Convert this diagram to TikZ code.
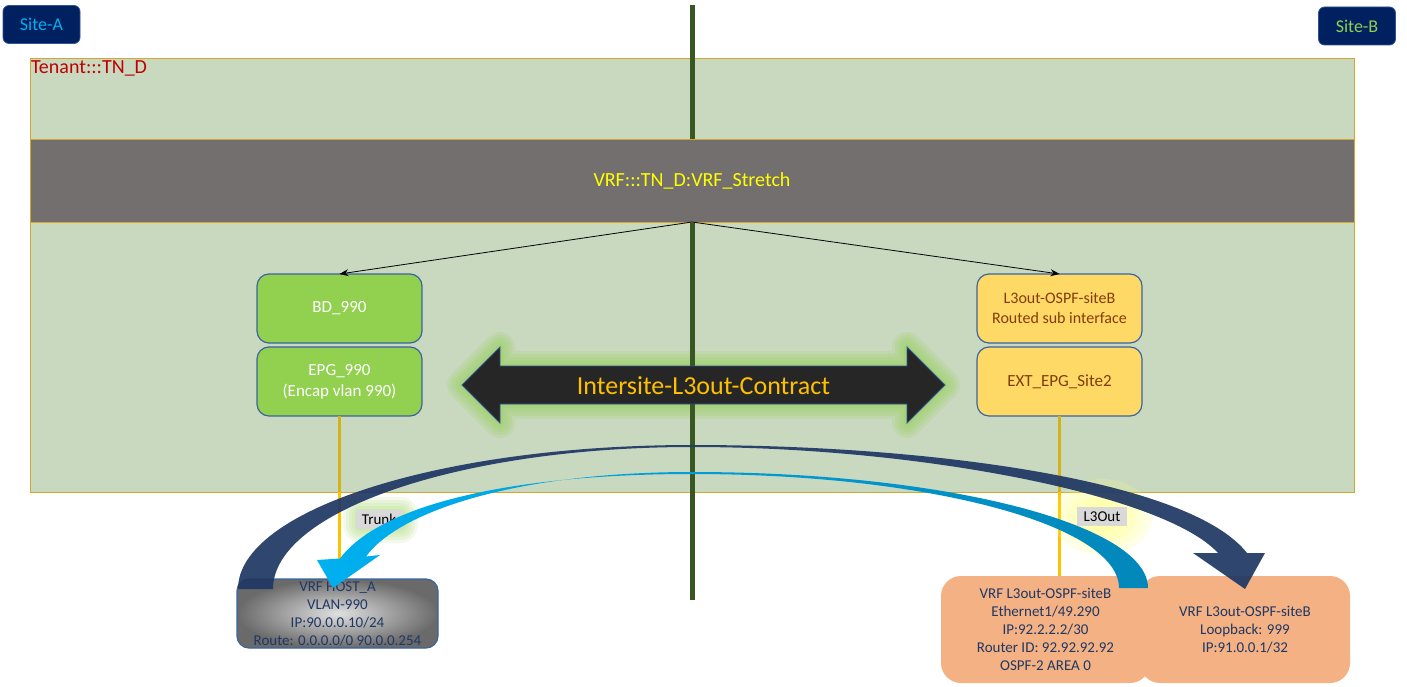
\documentclass[tikz,border=0pt]{standalone}
\usepackage{fontspec}
\setmainfont{Carlito}
\usetikzlibrary{arrows.meta}
\definecolor{navy}{HTML}{002060}
\definecolor{siteedge}{HTML}{2F5597}
\definecolor{cyanL}{HTML}{00B0F0}
\definecolor{cyanD}{HTML}{0287BA}
\definecolor{sitegreen}{HTML}{92D050}
\definecolor{tenantfill}{HTML}{C9D9BF}
\definecolor{tenantline}{HTML}{D4A72C}
\definecolor{tenred}{HTML}{C00000}
\definecolor{vrfgray}{HTML}{746F6F}
\definecolor{vrfyellow}{HTML}{FFFF00}
\definecolor{greenline}{HTML}{385723}
\definecolor{boxgreen}{HTML}{92D050}
\definecolor{boxblue}{HTML}{3B64A0}
\definecolor{boxyellow}{HTML}{FFD966}
\definecolor{browntext}{HTML}{843C0C}
\definecolor{arrowfill}{HTML}{262626}
\definecolor{amber}{HTML}{FFC000}
\definecolor{glowgreen}{HTML}{92D050}
\definecolor{hostin}{HTML}{E0E0E0}
\definecolor{hostout}{HTML}{6A6A6A}
\definecolor{hosttext}{HTML}{1F3864}
\definecolor{orangef}{HTML}{F4B183}
\definecolor{navyarrow}{HTML}{203864}
\definecolor{labelgray}{HTML}{D9D9D9}
\definecolor{yline}{HTML}{FFC000}
\definecolor{ylinein}{HTML}{D4B21E}
\definecolor{glowyellow}{HTML}{FFFF70}
\newcommand{\fsz}[2]{\fontsize{#1}{#2}\selectfont}
\begin{document}
\begin{tikzpicture}[x=1pt,y=-1pt,
  every node/.style={inner sep=0pt, outer sep=0pt},
  sitebox/.style={rectangle, rounded corners=6, fill=navy, draw=siteedge, line width=0.8, minimum width=77, minimum height=38, font=\fsz{18}{22}},
  epgbox/.style={rectangle, rounded corners=12, draw=boxblue, line width=1.2, minimum width=165, minimum height=69, align=center},
  greenbox/.style={epgbox, fill=boxgreen, text=white, font=\fsz{17}{21}},
  yellowbox/.style={epgbox, fill=boxyellow, text=browntext},
  hostbox/.style={rectangle, rounded corners=12, draw=boxblue, line width=1.2, inner color=hostin, outer color=hostout, minimum width=201, minimum height=69, align=center, text=hosttext, font=\fsz{15}{18}},
  orangebox/.style={rectangle, rounded corners=20, fill=orangef, minimum height=107, align=center, text=hosttext, font=\fsz{15}{18}},
  tag/.style={rectangle, fill=labelgray, minimum width=46, minimum height=19, font=\fsz{15}{18}},
  link/.style={-{Stealth[length=9pt,width=7pt]}, line width=0.8},
  trunkline/.style={draw=yline, line width=3},
]
\useasboundingbox (0,0) rectangle (1407,687);
\fill[white] (0,0) rectangle (1407,687);

% sites
\node[sitebox, text=cyanL] (siteA) at (41.5,24.5) {Site-A};
\node[sitebox, text=sitegreen] (siteB) at (1357,26) {Site-B};

% tenant
\node[rectangle, fill=tenantfill, draw=tenantline, line width=0.8, minimum width=1324, minimum height=434] (tenant) at (692,275) {};
\node[anchor=north west, text=tenred, font=\fsz{20}{24}] (tenlabel) at (31,61) {Tenant:::TN\_D};

% glow of contract arrow
\foreach \w in {30,24,18,12,6}{
  \draw[glowgreen, line width=\w, draw opacity=0.16, line join=round]
    (462,385) -- (500,347) -- (500,366) -- (907,366) -- (907,347) -- (945,385) -- (907,423) -- (907,404) -- (500,404) -- (500,423) -- cycle;
}

% vertical separator
\coordinate (ltop) at (692,5);
\coordinate (lbot) at (692,600);
\draw[greenline, line width=5] (ltop) -- (lbot);

% VRF band
\node[rectangle, fill=vrfgray, draw=tenantline, line width=0.6, minimum width=1324, minimum height=83, text=vrfyellow, font=\fsz{20}{24}] (vrf) at (692,180.5) {VRF:::TN\_D:VRF\_Stretch};

% boxes
\node[greenbox] (bd) at (339.5,308.5) {BD\_990};
\node[greenbox] (epg) at (339.5,381.5) {EPG\_990\\(Encap vlan 990)};
\node[yellowbox, font=\fsz{16}{20}] (l3o) at (1059.5,308.5) {L3out-OSPF-siteB\\Routed sub interface};
\node[yellowbox, font=\fsz{17}{21}] (ext) at (1059.5,381.5) {EXT\_EPG\_Site2};

\draw[link] (vrf.south) -- (bd.north);
\draw[link] (vrf.south) -- (l3o.north);

% contract arrow
\fill[arrowfill, draw=siteedge, line width=0.8]
  (462,385) -- (500,347) -- (500,366) -- (907,366) -- (907,347) -- (945,385) -- (907,423) -- (907,404) -- (500,404) -- (500,423) -- cycle;
\node[text=amber, font=\fsz{26}{30}] (contract) at (703.5,386) {Intersite-L3out-Contract};

% host boxes
\node[hostbox] (host) at (337.5,613.5) {VRF HOST\_A\\VLAN-990\\IP:90.0.0.10/24\\Route: 0.0.0.0/0 90.0.0.254};
\node[orangebox, minimum width=209] (eth) at (1045.5,629.5) {VRF L3out-OSPF-siteB\\Ethernet1/49.290\\IP:92.2.2.2/30\\Router ID: 92.92.92.92\\OSPF-2 AREA 0};
\node[orangebox, minimum width=210] (lo) at (1245,629.5) {VRF L3out-OSPF-siteB\\Loopback: 999\\IP:91.0.0.1/32};

% trunk lines
\draw[trunkline] (epg.south) -- (epg.south |- host.north);
\draw[draw=ylinein, line width=3] (epg.south) -- (epg.south |- tenant.south);
\draw[trunkline] (ext.south) -- (ext.south |- eth.north);
\draw[draw=ylinein, line width=3] (ext.south) -- (ext.south |- tenant.south);

% label glows
\foreach \e in {14,11,8,5,2}{
  \fill[glowgreen, opacity=0.11, rounded corners={\e+4}] ({357-\e},{511-\e}) rectangle ({404+\e},{529+\e});
}
\foreach \a/\b in {50/38,42/32,34/26,26/20,18/14}{
  \fill[glowyellow, opacity=0.16] (1102,517) ellipse [x radius=\a pt, y radius=\b pt];
}
\node[tag] (trunk) at (379,519.5) {Trunk};
\node[tag, minimum width=50] (l3tag) at (1102,516.5) {L3Out};

% navy curved arrow
\fill[navyarrow, opacity=0.93]
  (238,589) .. controls (238,510) and (441,445) .. (692,445)
  .. controls (930,445) and (1190,480) .. (1247,553)
  -- (1265,553) -- (1245,589) -- (1193,553) -- (1218,553)
  .. controls (1165,495) and (920,447) .. (692,447)
  .. controls (461,447) and (273,511) .. (273,589) -- cycle;

% cyan curved arrow
\shade[left color=cyanL, middle color=cyanL, right color=cyanD]
  (333,588) -- (317,560) -- (340,558.5)
  .. controls (380,505) and (510,474) .. (692,474)
  .. controls (928,474) and (1119,525) .. (1119,588)
  -- (1148,588)
  .. controls (1148,524) and (944,472) .. (692,472)
  .. controls (520,472) and (400,510) .. (366,556.5)
  -- (380,555) -- cycle;
\end{tikzpicture}
\end{document}
